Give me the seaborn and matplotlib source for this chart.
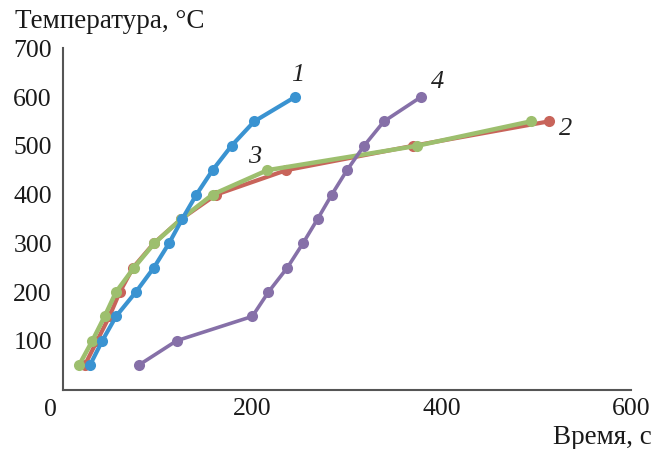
import matplotlib
matplotlib.use("Agg")
import matplotlib.pyplot as plt
import seaborn as sns
import pandas as pd

# Data (time in s, temperature in °C)
temp1 = [50, 100, 150, 200, 250, 300, 350, 400, 450, 500, 550, 600]
time1 = [28.5, 41.5, 56, 77, 96, 112, 126, 141, 158, 178, 202, 245]
temp2 = [50, 100, 150, 200, 250, 300, 350, 400, 450, 500, 550]
time2 = [23, 36, 49, 60, 74, 96, 125, 162, 236, 370, 513]
temp3 = [50, 100, 150, 200, 250, 300, 350, 400, 450, 500, 550]
time3 = [17, 31, 44, 56, 75, 96.5, 125, 158, 216, 374, 494]
temp4 = [50, 100, 150, 200, 250, 300, 350, 400, 450, 500, 550, 600]
time4 = [80, 120, 200, 217, 237, 253.5, 269, 284, 300, 318, 339, 378]
curve_labels = ["1", "2", "3", "4"]
label_pos_x = [248, 531, 202, 396]
label_pos_y = [645, 534, 477, 631]

colors = ["#3a93d1", "#c8645a", "#9dbf6e", "#8670a8"]

sns.set_style("white")
plt.rcParams['font.family'] = ['Liberation Serif', 'DejaVu Serif']

fig = plt.figure(figsize=(6.55, 4.49), dpi=100)
ax = fig.add_axes([63/655, 1-389.5/449, (631-63)/655, (389.5-48.3)/449])

series = [(time2, temp2, colors[1], 3.0), (time3, temp3, colors[2], 3.2),
          (time1, temp1, colors[0], 3.0), (time4, temp4, colors[3], 2.6)]
for xs, ys, c, lw in series:
    df = pd.DataFrame({"t": xs, "T": ys})
    sns.lineplot(data=df, x="t", y="T", ax=ax, color=c, linewidth=lw,
                 marker="o", markersize=8, markeredgewidth=0, sort=False)

for lab, lx, ly in zip(curve_labels, label_pos_x, label_pos_y):
    ax.text(lx, ly, lab, fontsize=19, fontstyle="italic", ha="center", va="center", color="#222222")

ax.set_xlim(0, 600)
ax.set_ylim(0, 700)
ax.set_xticks([200, 400, 600])
ax.set_yticks([100, 200, 300, 400, 500, 600, 700])
ax.set_xlabel("")
ax.set_ylabel("")
ax.tick_params(direction="in", length=6, width=1.2, colors="#444444", labelcolor="#1a1a1a", labelsize=18.5)
ax.tick_params(axis="x", pad=6)
ax.tick_params(axis="y", pad=8)
for s in ["top", "right"]:
    ax.spines[s].set_visible(False)
for s in ["left", "bottom"]:
    ax.spines[s].set_color("#555555")
    ax.spines[s].set_linewidth(1.5)

ax.annotate("0", xy=(0, 0), xytext=(-9, -7), textcoords="offset points",
            ha="center", va="top", fontsize=18.5, color="#1a1a1a", annotation_clip=False)

fig.text(15/655, 1-22/449, "Температура, °C", fontsize=19.5, ha="left", va="center", color="#1a1a1a")
fig.text(652/655, 1-438/449, "Время, с", fontsize=19.5, ha="right", va="center", color="#1a1a1a")

fig.savefig("out.png", dpi=100)
